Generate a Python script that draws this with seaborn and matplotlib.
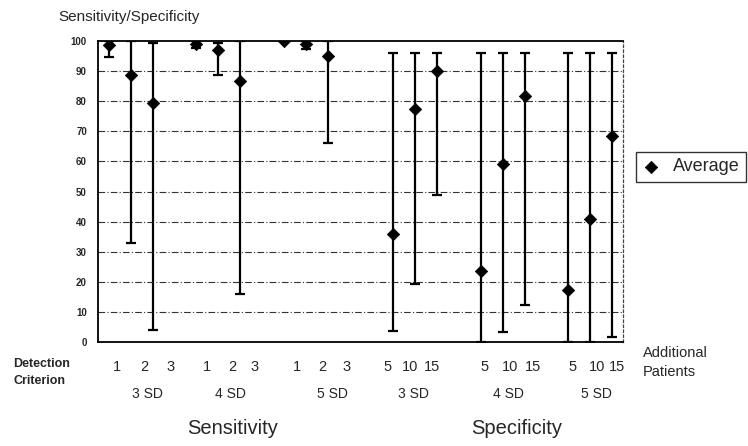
import numpy as np
import pandas as pd
import matplotlib
matplotlib.use("Agg")
import matplotlib.pyplot as plt
import seaborn as sns

# values (percent)
sd_groups = ["3 SD", "4 SD", "5 SD"]
sens_criteria = ["1", "2", "3"]
spec_patients = ["5", "10", "15"]

sens_avg = [98.5, 88.5, 79.5, 99.0, 97.0, 86.5, 99.8, 98.8, 95.0]
sens_low = [94.5, 33.0, 4.0, 97.5, 88.5, 16.0, 99.8, 97.3, 66.0]
sens_high = [100, 100, 99.3, 100, 99.3, 100, 99.8, 100, 100]

spec_avg = [36.0, 77.5, 90.0, 23.5, 59.0, 81.5, 17.5, 41.0, 68.5]
spec_low = [3.8, 19.3, 49.0, 0.0, 3.5, 12.3, 0.0, 0.2, 1.7]
spec_high = [96, 96, 96, 96, 96, 96, 96, 96, 96]

W, H = 748, 446


def fx(px):
    return px / W


def fy(py):
    return 1 - py / H


# slot layout: three groups of three, blank slot between groups, two blanks between halves
slots = []
for g in range(3):
    slots += [g * 4 + i for i in range(3)]
spec_start = 13
slots += [spec_start + g * 4 + i for g in range(3) for i in range(3)]

df = pd.DataFrame({
    "slot": slots,
    "avg": sens_avg + spec_avg,
    "low": sens_low + spec_low,
    "high": sens_high + spec_high,
})

sns.set_theme(style="white")
plt.rcParams["font.family"] = ["Liberation Sans", "DejaVu Sans"]

fig = plt.figure(figsize=(W / 100, H / 100), dpi=100)
ax = fig.add_axes([fx(98), fy(342.3), fx(623) - fx(98), fy(40.7) - fy(342.3)])

ax.errorbar(df["slot"], df["avg"],
            yerr=[df["avg"] - df["low"], df["high"] - df["avg"]],
            fmt="none", ecolor="black", elinewidth=1.6, capsize=3.5, capthick=1.6, zorder=2)
sns.scatterplot(data=df, x="slot", y="avg", marker="D", s=40, color="black",
                edgecolor="black", linewidth=0.5, label="Average", ax=ax, zorder=3)

ax.set_xlim(-0.5, 23.5)
ax.set_ylim(0, 100)
ax.set_yticks(np.arange(0, 101, 10))
ax.set_yticklabels([str(v) for v in range(0, 101, 10)], fontsize=7, fontweight="bold")
ax.tick_params(axis="y", length=0, pad=8)
ax.set_xticks([])
ax.set_xticks(np.arange(0.5, 23, 1), minor=True)
ax.tick_params(axis="x", which="minor", direction="in", length=3, width=0.8, color="black")
ax.set_xlabel("")
ax.set_ylabel("")

for v in range(10, 100, 10):
    ax.axhline(v, color="#333333", lw=0.8, ls=(0, (6, 2, 1, 2)), zorder=1)

for side in ["left", "bottom", "top"]:
    ax.spines[side].set_color("black")
    ax.spines[side].set_linewidth(1.3)
ax.spines["right"].set_color("#444444")
ax.spines["right"].set_linewidth(0.9)
ax.spines["right"].set_linestyle((0, (2, 2)))

leg = ax.legend(loc="upper left", frameon=True, fontsize=13, handlelength=1.0,
                handletextpad=0.7, borderpad=0.35, borderaxespad=0)
leg.set_bbox_to_anchor((fx(636), fy(152)), transform=fig.transFigure)
leg.get_frame().set_edgecolor("black")
leg.get_frame().set_linewidth(1.0)
leg.get_frame().set_boxstyle("square", pad=0)

# y-axis title
fig.text(fx(58), fy(17), "Sensitivity/Specificity", fontsize=11, va="center", ha="left")

# row captions
fig.text(fx(13), fy(364), "Detection", fontsize=9, fontweight="bold", va="center", ha="left")
fig.text(fx(13), fy(381), "Criterion", fontsize=9, fontweight="bold", va="center", ha="left")
fig.text(fx(643), fy(353), "Additional", fontsize=10.5, va="center", ha="left")
fig.text(fx(643), fy(372), "Patients", fontsize=10.5, va="center", ha="left")

# criterion / patients numbers under the axis
sens_label_px = [117, 144, 171, 207, 232, 255, 297, 322, 347]
spec_label_px = [388, 410, 432, 485, 510, 533, 573, 597, 617]
for i, px in enumerate(sens_label_px):
    fig.text(fx(px), fy(367), sens_criteria[i % 3], fontsize=10.5, ha="center", va="center")
for i, px in enumerate(spec_label_px):
    fig.text(fx(px), fy(367), spec_patients[i % 3], fontsize=10.5, ha="center", va="center")

for name, px in zip(sd_groups, [147, 230, 332]):
    fig.text(fx(px), fy(394), name, fontsize=10, ha="center", va="center")
for name, px in zip(sd_groups, [413, 508, 596]):
    fig.text(fx(px), fy(394), name, fontsize=10, ha="center", va="center")

fig.text(fx(233), fy(428), "Sensitivity", fontsize=14.5, ha="center", va="center")
fig.text(fx(517), fy(428), "Specificity", fontsize=14.5, ha="center", va="center")

fig.savefig("out.png", dpi=100)
